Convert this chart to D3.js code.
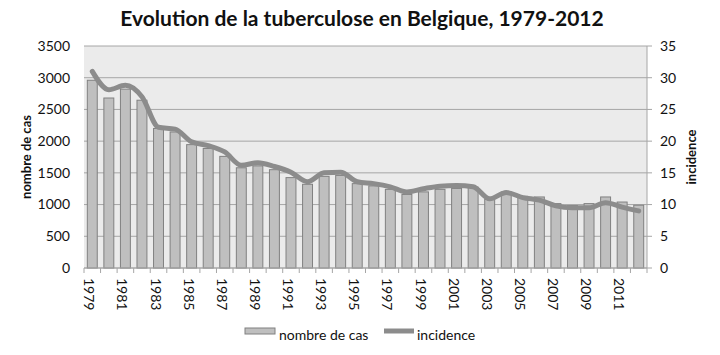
<!DOCTYPE html>
<html><head><meta charset="utf-8">
<script src="https://cdn.jsdelivr.net/npm/d3@7"></script>
<style>body{margin:0;background:#fff;} text{font-family:Lato,"Open Sans",sans-serif;fill:#111;}</style>
</head><body><svg id="c" width="720" height="355"></svg>
<script>
const years = d3.range(1979, 2013);
const cases = [2960,2680,2820,2645,2200,2145,1945,1885,1760,1580,1610,1550,1425,1320,1445,1460,1330,1295,1240,1160,1200,1240,1255,1275,1080,1200,1130,1120,1015,985,1015,1120,1040,990];
const incidence = [31.0,28.1,28.8,27.0,22.2,21.9,19.9,19.3,18.3,16.2,16.6,16.0,15.1,13.6,15.0,15.1,13.6,13.3,12.8,12.0,12.5,12.9,13.0,12.8,10.9,11.9,11.1,10.7,9.8,9.5,9.5,10.3,9.6,9.0];
const leftTicks = [0,500,1000,1500,2000,2500,3000,3500];
const rightTicks = [0,5,10,15,20,25,30,35];
const xLabels = years.filter((y,i)=>i%2===0);

const svg = d3.select("#c");
const L=84, R=647, T=46, B=268;
const x = d3.scaleBand().domain(years).range([L,R]).paddingInner(0.4).paddingOuter(0.2);
const yL = d3.scaleLinear().domain([0,3500]).range([B,T]);
const yR = d3.scaleLinear().domain([0,35]).range([B,T]);

svg.append("rect").attr("x",L).attr("y",T).attr("width",R-L).attr("height",B-T).attr("fill","#ebebeb");
svg.append("g").selectAll("line").data(leftTicks).join("line")
  .attr("x1",L).attr("x2",R).attr("y1",d=>yL(d)).attr("y2",d=>yL(d))
  .attr("stroke","#a6a6a6").attr("stroke-width",1);

// left axis labels
svg.append("g").selectAll("text").data(leftTicks).join("text")
  .attr("x",70).attr("y",d=>yL(d)).attr("dy","0.35em").attr("text-anchor","end")
  .style("font-size","14px").text(d=>d);
// right axis
svg.append("line").attr("x1",R).attr("x2",R).attr("y1",T).attr("y2",B).attr("stroke","#a6a6a6");
svg.append("g").selectAll("line").data(rightTicks).join("line")
  .attr("x1",R).attr("x2",R+5).attr("y1",d=>yR(d)).attr("y2",d=>yR(d)).attr("stroke","#a6a6a6");
svg.append("g").selectAll("text").data(rightTicks).join("text")
  .attr("x",660).attr("y",d=>yR(d)).attr("dy","0.35em").attr("text-anchor","start")
  .style("font-size","14px").text(d=>d);

// bars
svg.append("g").selectAll("rect").data(years).join("rect")
  .attr("x",d=>x(d)).attr("width",x.bandwidth())
  .attr("y",(d,i)=>yL(cases[i])).attr("height",(d,i)=>B-yL(cases[i]))
  .attr("fill","#bfbfbf").attr("stroke","#808080").attr("stroke-width",1);

// x axis
svg.append("line").attr("x1",L).attr("x2",R).attr("y1",B).attr("y2",B).attr("stroke","#a6a6a6");
const step = x.step();
svg.append("g").selectAll("line").data(d3.range(years.length+1)).join("line")
  .attr("x1",i=>L+i*(R-L)/years.length).attr("x2",i=>L+i*(R-L)/years.length)
  .attr("y1",B).attr("y2",B+5).attr("stroke","#a6a6a6");
svg.append("g").selectAll("text").data(xLabels).join("text")
  .attr("transform",d=>`translate(${x(d)+x.bandwidth()/2-3},278) rotate(90)`)
  .attr("dy","0.35em").attr("text-anchor","start").style("font-size","14px").text(d=>d);

// line
const line = d3.line().x((d,i)=>x(years[i])+x.bandwidth()/2).y(d=>yR(d)).curve(d3.curveMonotoneX);
svg.append("path").datum(incidence).attr("d",line).attr("fill","none")
  .attr("stroke","#8c8c8c").attr("stroke-width",5).attr("stroke-linejoin","round").attr("stroke-linecap","round");

// titles
svg.append("text").attr("x",362).attr("y",26).attr("text-anchor","middle")
  .style("font-size","21px").style("font-weight","bold").text("Evolution de la tuberculose en Belgique, 1979-2012");
svg.append("text").attr("transform",`translate(31,${(T+B)/2}) rotate(-90)`).attr("text-anchor","middle")
  .style("font-size","13px").style("font-weight","bold").text("nombre de cas");
svg.append("text").attr("transform",`translate(696,${(T+B)/2}) rotate(-90)`).attr("text-anchor","middle")
  .style("font-size","13px").style("font-weight","bold").text("incidence");

// legend
const lg = svg.append("g");
lg.append("rect").attr("x",245).attr("y",328).attr("width",30).attr("height",6).attr("fill","#bfbfbf").attr("stroke","#808080");
lg.append("text").attr("x",279).attr("y",340).style("font-size","14px").text("nombre de cas");
lg.append("line").attr("x1",384).attr("x2",414).attr("y1",331).attr("y2",331).attr("stroke","#8c8c8c").attr("stroke-width",5);
lg.append("text").attr("x",417).attr("y",340).style("font-size","14px").text("incidence");
</script></body></html>
